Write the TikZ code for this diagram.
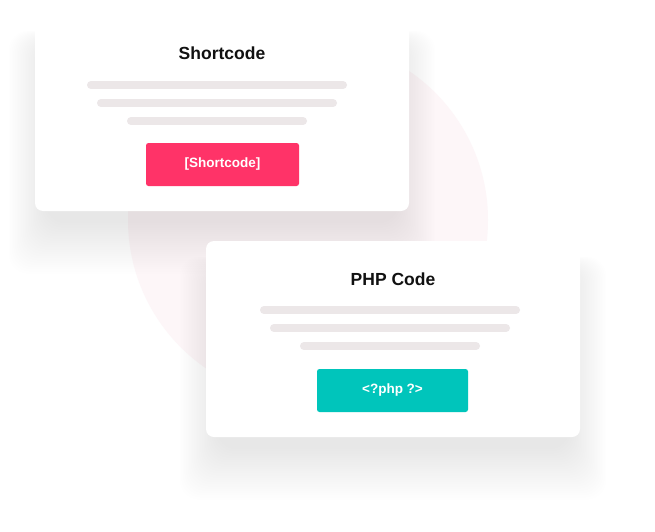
\documentclass[tikz,border=0pt]{standalone}
\usepackage{fontspec}
\setmainfont{Liberation Sans}
\definecolor{blobpink}{RGB}{253,246,248}
\definecolor{barcol}{RGB}{236,231,232}
\definecolor{pinkbtn}{RGB}{255,51,104}
\definecolor{tealbtn}{RGB}{0,197,187}
\definecolor{titlecol}{RGB}{17,17,17}
\tikzset{
  card/.style={fill=white,rounded corners=8pt},
  bar/.style={draw=barcol,line width=8pt,line cap=round},
  title/.style={text=titlecol,font=\fontsize{17.5}{20}\selectfont\bfseries,inner sep=0pt},
  btn/.style={rounded corners=2.5pt,text=white,font=\fontsize{13.5}{15}\selectfont\bfseries,inner sep=0pt},
  shadowlayer/.style={black,opacity=0.0022,rounded corners=20pt}
}
\begin{document}
\begin{tikzpicture}[x=1pt,y=-1pt]
\useasboundingbox (0,0) rectangle (655,532);
\fill[white] (0,0) rectangle (655,532);
% background blob
\fill[blobpink] (308,220) circle[radius=180pt];
% card 1 shadow
\foreach \k in {1,...,24}{
  \fill[shadowlayer]
    ({35+12-\k*1.6},{15+30-\k*0.6}) rectangle ({409-12+\k*1.6},{211+10+\k*2.2});
}
% card 1
\fill[card] (35,15) rectangle (409,211);
\node[title] (t1) at (222,53) {Shortcode};
\draw[bar] (91,85) -- (343,85);
\draw[bar] (101,103) -- (333,103);
\draw[bar] (131,121) -- (303,121);
\node[btn,fill=pinkbtn,minimum width=153pt,minimum height=43pt] (b1) at (222.5,164.5) {[Shortcode]};
% card 2 shadow
\foreach \k in {1,...,24}{
  \fill[shadowlayer]
    ({206+12-\k*1.6},{241+30-\k*0.6}) rectangle ({580-12+\k*1.6},{437+10+\k*2.2});
}
% card 2
\fill[card] (206,241) rectangle (580,437);
\node[title] (t2) at (393,279) {PHP Code};
\draw[bar] (264,310) -- (516,310);
\draw[bar] (274,328) -- (506,328);
\draw[bar] (304,346) -- (476,346);
\node[btn,fill=tealbtn,minimum width=151pt,minimum height=43pt] (b2) at (392.5,390.5) {<?php ?>};
\end{tikzpicture}
\end{document}
